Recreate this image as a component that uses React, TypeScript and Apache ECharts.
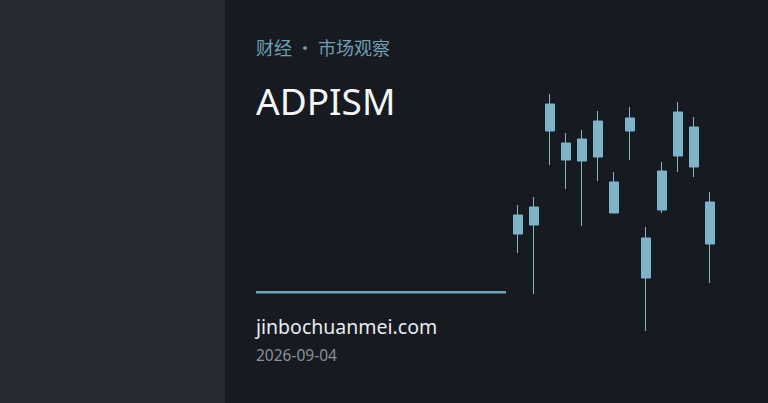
import {useEffect, useRef} from 'react';
import * as echarts from 'echarts';

// candles: [open, close, low, high] on a 0..250 scale
const days = ['1', '2', '3', '4', '5', '6', '7', '8', '9', '10', '11', '12', '13'];
const opens = [106, 115, 209, 180, 179, 183, 127, 209, 62, 130, 184, 173, 96];
const closes = [125, 133, 236, 197, 201, 219, 158, 222, 102, 169, 228, 213, 138];
const lows = [87, 46, 175, 151, 114, 159, 127, 180, 9, 127, 168, 163, 57];
const highs = [135, 143, 246, 207, 210, 229, 168, 233, 113, 178, 238, 223, 148];

const kicker = '财经 · 市场观察';
const title = 'ADPISM';
const site = 'jinbochuanmei.com';
const date = '2026-09-04';

const App = () => {
    const chartRef = useRef<HTMLDivElement>(null);

    useEffect(() => {
        const chart = echarts.init(chartRef.current!, null, {renderer: 'svg'});
        const font = '"Noto Sans", "Noto Sans CJK SC", sans-serif';
        chart.setOption({
            animation: false,
            backgroundColor: '#171a21',
            grid: {left: 510, width: 208, top: 90, height: 250},
            xAxis: {type: 'category', data: days, show: false},
            yAxis: {type: 'value', min: 0, max: 250, show: false},
            graphic: [
                {type: 'rect', shape: {x: 0, y: 0, width: 225, height: 403}, style: {fill: '#262a32'}, z: -1},
                {type: 'text', x: 256, y: 47, style: {text: kicker, fill: '#6e9fb3', font: '18px "Noto Sans CJK SC", sans-serif', verticalAlign: 'middle'}},
                {type: 'text', x: 256, y: 100, style: {text: title, fill: '#f4f6f8', font: `37px ${font}`, verticalAlign: 'middle'}},
                {type: 'rect', shape: {x: 256, y: 291, width: 250, height: 2.5}, style: {fill: '#6fa3b6'}},
                {type: 'text', x: 256, y: 326, style: {text: site, fill: '#e8ebee', font: `19.5px ${font}`, verticalAlign: 'middle'}},
                {type: 'text', x: 256, y: 355, style: {text: date, fill: '#8b9099', font: `15.5px ${font}`, verticalAlign: 'middle'}},
            ],
            series: [
                {
                    type: 'candlestick',
                    barWidth: 10,
                    data: days.map((_, i) => [opens[i], closes[i], lows[i], highs[i]]),
                    itemStyle: {
                        color: '#7fb3c8',
                        color0: '#7fb3c8',
                        borderColor: '#7fb3c8',
                        borderColor0: '#7fb3c8',
                        borderWidth: 1,
                    },
                },
            ],
        });
        return () => {
            chart.dispose();
        };
    }, []);

    return <div ref={chartRef} style={{position: 'fixed', left: 0, top: 0, width: 768, height: 403}} />;
};

export default App;
